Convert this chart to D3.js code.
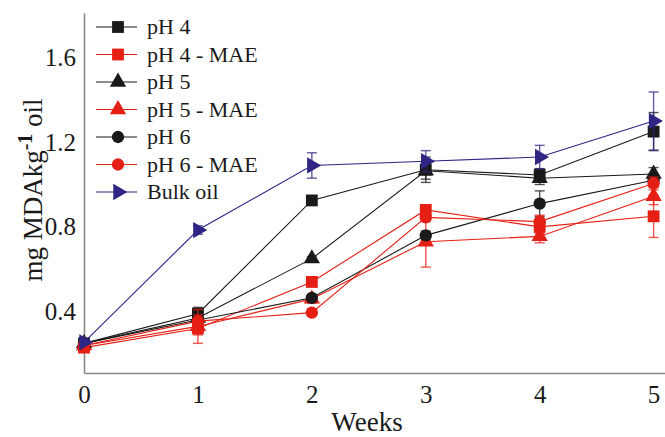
<!DOCTYPE html>
<html lang="en">
<head>
    <meta charset="UTF-8">
    <title>MDA chart</title>
    <script src="https://d3js.org/d3.v7.min.js"></script>
    <style>
        body { margin: 0; background: #fff; }
        svg text { font-family: "Liberation Serif", "Times New Roman", Times, "DejaVu Serif", serif; fill: #1a1a1a; }
    </style>
</head>
<body>
<script>
    // data
    var weeks = [0, 1, 2, 3, 4, 5];
    var yTicks = [0.4, 0.8, 1.2, 1.6];

    var pH4 = [0.25, 0.39, 0.925, 1.07, 1.045, 1.25];
    var pH4Err = [0.01, 0.03, 0.01, 0.06, 0.03, 0.09];
    var pH4MAE = [0.23, 0.32, 0.54, 0.88, 0.80, 0.85];
    var pH4MAEErr = [0.01, 0.03, 0.02, 0.02, 0.03, 0.10];
    var pH5 = [0.25, 0.37, 0.65, 1.065, 1.03, 1.05];
    var pH5Err = [0.01, 0.02, 0.01, 0.04, 0.03, 0.03];
    var pH5MAE = [0.24, 0.33, 0.46, 0.73, 0.755, 0.945];
    var pH5MAEErr = [0.01, 0.08, 0.02, 0.12, 0.03, 0.04];
    var pH6 = [0.25, 0.36, 0.465, 0.76, 0.91, 1.02];
    var pH6Err = [0.01, 0.02, 0.01, 0.02, 0.06, 0.03];
    var pH6MAE = [0.24, 0.355, 0.395, 0.845, 0.825, 1.005];
    var pH6MAEErr = [0.01, 0.03, 0.01, 0.02, 0.03, 0.03];
    var bulk = [0.255, 0.785, 1.09, 1.11, 1.13, 1.30];
    var bulkErr = [0.01, 0.02, 0.06, 0.05, 0.055, 0.137];

    var black = "#1a1a1a", red = "#e51f14", blue = "#2e2585";
    var serif = "'Liberation Serif', 'Times New Roman', Times, 'DejaVu Serif', serif";

    var series = [
        {name: "pH 4", values: pH4, err: pH4Err, color: black, shape: "square"},
        {name: "pH 4 - MAE", values: pH4MAE, err: pH4MAEErr, color: red, shape: "square"},
        {name: "pH 5", values: pH5, err: pH5Err, color: black, shape: "triangle"},
        {name: "pH 5 - MAE", values: pH5MAE, err: pH5MAEErr, color: red, shape: "triangle"},
        {name: "pH 6", values: pH6, err: pH6Err, color: black, shape: "circle"},
        {name: "pH 6 - MAE", values: pH6MAE, err: pH6MAEErr, color: red, shape: "circle"},
        {name: "Bulk oil", values: bulk, err: bulkErr, color: blue, shape: "right"}
    ];

    var width = 665, height = 437;
    var svg = d3.select("body").append("svg")
        .attr("width", width)
        .attr("height", height)
        .attr("font-family", serif);

    var x = d3.scaleLinear().domain([0, 5.1]).range([84, 665]);
    var y = d3.scaleLinear().domain([0.11, 1.81]).range([373, 13]);

    function symbolPath(shape) {
        if (shape === "square") return d3.symbol(d3.symbolSquare, 140)();
        if (shape === "circle") return d3.symbol(d3.symbolCircle, 120)();
        return d3.symbol(d3.symbolTriangle, 115)();
    }
    function symbolRot(shape) {
        return shape === "right" ? " rotate(90)" : "";
    }

    // axes
    var xAxis = svg.append("g")
        .attr("transform", "translate(0,373)")
        .call(d3.axisBottom(x).tickValues(weeks).tickSize(0).tickPadding(12).tickFormat(d3.format("d")));
    var yAxis = svg.append("g")
        .attr("transform", "translate(84,0)")
        .call(d3.axisLeft(y).tickValues(yTicks).tickSize(0).tickPadding(8).tickFormat(d3.format(".1f")));
    [xAxis, yAxis].forEach(function (a) {
        a.attr("font-family", serif);
        a.select(".domain").attr("stroke", "#8a8a8a").attr("stroke-width", 1.6);
        a.selectAll("text").attr("font-size", 25).attr("fill", "#1a1a1a");
    });

    svg.append("text")
        .attr("x", 367)
        .attr("y", 431)
        .attr("text-anchor", "middle")
        .attr("font-size", 27)
        .text("Weeks");

    var yt = svg.append("text")
        .attr("transform", "translate(42,190) rotate(-90)")
        .attr("text-anchor", "middle")
        .attr("font-size", 27);
    yt.append("tspan").text("mg MDAkg");
    yt.append("tspan").attr("dy", -10).attr("font-size", 20).attr("font-weight", "bold").text("-1");
    yt.append("tspan").attr("dy", 10).text(" oil");

    var line = d3.line()
        .x(function (d, i) { return x(weeks[i]); })
        .y(function (d) { return y(d); });

    series.forEach(function (s) {
        var g = svg.append("g");
        g.append("path")
            .attr("d", line(s.values))
            .attr("fill", "none")
            .attr("stroke", s.color)
            .attr("stroke-width", 1.1);

        var eb = g.selectAll(".err").data(s.values).enter().append("g")
            .attr("stroke", s.color)
            .attr("stroke-opacity", 0.75)
            .attr("stroke-width", 1.4);
        eb.append("line")
            .attr("x1", function (d, i) { return x(weeks[i]); })
            .attr("x2", function (d, i) { return x(weeks[i]); })
            .attr("y1", function (d, i) { return y(d - s.err[i]); })
            .attr("y2", function (d, i) { return y(d + s.err[i]); });
        [-1, 1].forEach(function (sign) {
            eb.append("line")
                .attr("x1", function (d, i) { return x(weeks[i]) - 5; })
                .attr("x2", function (d, i) { return x(weeks[i]) + 5; })
                .attr("y1", function (d, i) { return y(d + sign * s.err[i]); })
                .attr("y2", function (d, i) { return y(d + sign * s.err[i]); });
        });

        g.selectAll(".pt").data(s.values).enter().append("path")
            .attr("d", symbolPath(s.shape))
            .attr("transform", function (d, i) {
                return "translate(" + x(weeks[i]) + "," + y(d) + ")" + symbolRot(s.shape);
            })
            .attr("fill", s.color);
    });

    // legend
    var legend = svg.append("g");
    series.forEach(function (s, i) {
        var ly = 27 + i * 27.5;
        legend.append("line")
            .attr("x1", 96).attr("x2", 137)
            .attr("y1", ly).attr("y2", ly)
            .attr("stroke", s.color)
            .attr("stroke-width", 1.1);
        legend.append("path")
            .attr("d", symbolPath(s.shape))
            .attr("transform", "translate(118," + ly + ")" + symbolRot(s.shape))
            .attr("fill", s.color);
        legend.append("text")
            .attr("x", 147)
            .attr("y", ly + 7)
            .attr("font-size", 22)
            .text(s.name);
    });
</script>
</body>
</html>
